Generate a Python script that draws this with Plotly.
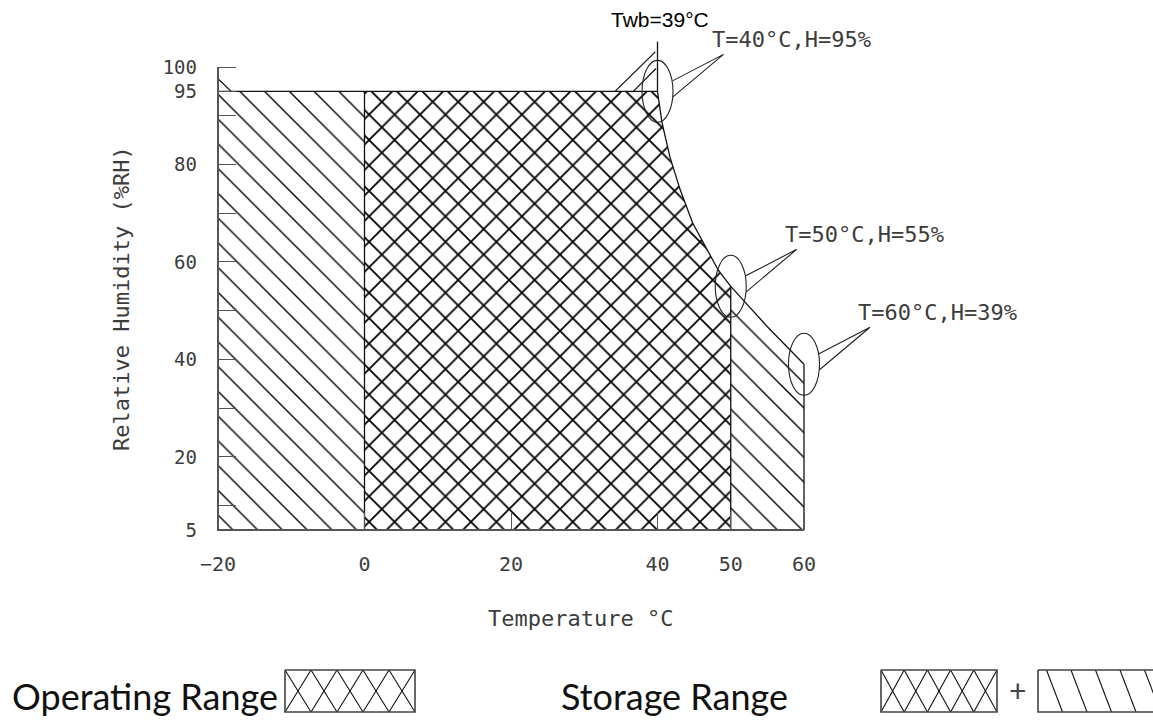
import plotly.graph_objects as go

W, H = 1153, 722

# ---------------- data ----------------
temp_ticks = [-20, 0, 20, 40, 50, 60]
rh_ticks = [5, 20, 40, 60, 80, 95, 100]
rh_minor_ticks = [10, 30, 50, 70, 90]

storage_t_min, storage_t_max = -20, 60
operating_t_min, operating_t_max = 0, 50
rh_min, rh_max = 5, 95
rh_axis_top = 100

# upper limit curve (constant wet bulb)
limit_t = [40, 40.6, 41.7, 43.1, 44.8, 46.8, 48.3, 50, 55, 60]
limit_rh = [95, 88.7, 81.5, 74.8, 68.0, 62.4, 58.3, 55, 46.7, 39]

# marked corner points
point_t = [40, 50, 60]
point_rh = [95, 55, 39]
point_labels = ["T=40°C,H=95%", "T=50°C,H=55%", "T=60°C,H=39%"]

# wet bulb marker
twb_label = "Twb=39°C"
twb_t = 40
twb_top = 105.2

# stray hatch segments above the 95 % line
extra_t0 = [34.2, 36.7, -20.0]
extra_rh0 = [95, 95, 97.6]
extra_t1 = [39.7, 39.8, -18.2]
extra_rh1 = [103.1, 99.7, 95]

# ---------------- scales (pixels per unit) ----------------
PX_X = 586 / 80.0
PX_Y = 463 / 95.0
X0_PX, Y0_PX = 218, 530
x_range = [-20 - X0_PX / PX_X, -20 + (W - X0_PX) / PX_X]
y_range = [5 - (H - Y0_PX) / PX_Y, 5 + Y0_PX / PX_Y]

CAD_FONT = "DejaVu Sans Mono"
CAD_COLOR = "#3c3c3c"

fig = go.Figure()

# storage range polygon (single hatch)
st_x = [storage_t_min, storage_t_min] + limit_t + [storage_t_max]
st_y = [rh_min, rh_max] + limit_rh + [rh_min]
fig.add_trace(go.Scatter(
    x=st_x, y=st_y, mode="lines", fill="toself", fillcolor="white",
    line=dict(width=0, color="rgba(0,0,0,0)"),
    fillpattern=dict(shape="\\", size=17.5, solidity=0.08, fgcolor="black",
                     bgcolor="white", fillmode="replace"),
    hoverinfo="skip", showlegend=False))

# operating range polygon (cross hatch)
op_t = [t for t in limit_t if t <= operating_t_max]
op_rh = [r for t, r in zip(limit_t, limit_rh) if t <= operating_t_max]
op_x = [operating_t_min, operating_t_min] + op_t + [operating_t_max]
op_y = [rh_min, rh_max] + op_rh + [rh_min]
fig.add_trace(go.Scatter(
    x=op_x, y=op_y, mode="lines", fill="toself", fillcolor="white",
    line=dict(width=0, color="rgba(0,0,0,0)"),
    fillpattern=dict(shape="x", size=18, solidity=0.19, fgcolor="black",
                     bgcolor="white", fillmode="replace"),
    hoverinfo="skip", showlegend=False))

# region outlines
ox, oy = [], []
def seg(xs, ys):
    ox.extend(list(xs) + [None]); oy.extend(list(ys) + [None])
seg([storage_t_min, limit_t[0]], [rh_max, rh_max])
seg([operating_t_min, operating_t_min], [rh_min, rh_max])
seg([operating_t_max, operating_t_max], [rh_min, op_rh[-1]])
seg([storage_t_max, storage_t_max], [rh_min, limit_rh[-1]])
seg(limit_t, limit_rh)
seg([twb_t, twb_t], [limit_rh[0], twb_top])
for a, b, c, d in zip(extra_t0, extra_rh0, extra_t1, extra_rh1):
    seg([a, c], [b, d])
fig.add_trace(go.Scatter(x=ox, y=oy, mode="lines",
                         line=dict(color="#111111", width=1.3),
                         hoverinfo="skip", showlegend=False))

# axis frame
fig.add_trace(go.Scatter(
    x=[storage_t_min, storage_t_min, storage_t_max],
    y=[rh_axis_top, rh_min, rh_min], mode="lines",
    line=dict(color="#555555", width=2), hoverinfo="skip", showlegend=False))

# callout bubbles
cx, cy = [], []
for t, r in zip(point_t, point_rh):
    fig.add_shape(type="circle", xref="x", yref="y",
                  x0=t - 15.5 / PX_X, x1=t + 15.5 / PX_X,
                  y0=r - 31 / PX_Y, y1=r + 31 / PX_Y,
                  line=dict(color="#222222", width=1.1))
    cx.extend([t + 15 / PX_X, t + 66 / PX_X, t + 15.5 / PX_X, None])
    cy.extend([r + 10.5 / PX_Y, r + 37 / PX_Y, r - 5.5 / PX_Y, None])
fig.add_trace(go.Scatter(x=cx, y=cy, mode="lines",
                         line=dict(color="#222222", width=1.1),
                         hoverinfo="skip", showlegend=False))

for t, r, lab in zip(point_t, point_rh, point_labels):
    fig.add_annotation(x=t, y=r, xref="x", yref="y", text=lab, showarrow=False,
                       xanchor="left", yanchor="middle", xshift=52, yshift=52,
                       font=dict(family=CAD_FONT, size=22, color=CAD_COLOR))

fig.add_annotation(x=twb_t, y=twb_top, xref="x", yref="y", text=twb_label,
                   showarrow=False, xanchor="center", yanchor="middle", yshift=22,
                   xshift=2, font=dict(family="Liberation Sans", size=21, color="black"))

# axis titles
fig.add_annotation(x=121 / W, y=1 - 298 / H, xref="paper", yref="paper",
                   xanchor="center", yanchor="middle",
                   text="Relative Humidity (%RH)", textangle=-90, showarrow=False,
                   font=dict(family=CAD_FONT, size=22, color=CAD_COLOR))
fig.add_annotation(x=580 / W, y=1 - 618 / H, xref="paper", yref="paper",
                   xanchor="center", yanchor="middle",
                   text="Temperature °C", showarrow=False,
                   font=dict(family=CAD_FONT, size=22, color=CAD_COLOR))

# ---------------- legend swatches (pixel overlay axes) ----------------
LEG_FONT = "Lato"
lx, ly = [], []
def lseg(x0, y0, x1, y1):
    lx.extend([x0, x1, None]); ly.extend([y0, y1, None])
def cross_box(x0, x1, y0, y1, n):
    w = (x1 - x0) / n
    for i in range(n):
        a = x0 + i * w
        lseg(a, y0, a + w, y1)
        lseg(a + w, y0, a, y1)
def diag_box(x0, x1, y0, y1, step, dx):
    xs = x0 - dx
    while xs < x1:
        a0, b0 = xs, y0
        a1, b1 = xs + dx, y1
        if a0 < x0:
            b0 = y0 + (x0 - a0) / dx * (y1 - y0); a0 = x0
        if a1 > x1:
            b1 = y0 + (x1 - xs) / dx * (y1 - y0); a1 = x1
        if a1 > a0:
            lseg(a0, b0, a1, b1)
        xs += step

LY0, LY1 = 670, 712
cross_box(285, 415, LY0, LY1, 5)
cross_box(881, 997, LY0, LY1, 5)
diag_box(1038, 1160, LY0, LY1, 24.5, 16)
fig.add_trace(go.Scatter(x=lx, y=ly, mode="lines", xaxis="x2", yaxis="y2",
                         line=dict(color="#111111", width=1.1),
                         hoverinfo="skip", showlegend=False))
bx, by = [], []
for x0, x1 in [(285, 415), (881, 997), (1038, 1160)]:
    bx.extend([x0, x1, x1, x0, x0, None]); by.extend([LY0, LY0, LY1, LY1, LY0, None])
fig.add_trace(go.Scatter(x=bx, y=by, mode="lines", xaxis="x2", yaxis="y2",
                         line=dict(color="#444444", width=1.6),
                         hoverinfo="skip", showlegend=False))

fig.add_annotation(x=10 / W, y=1 - 696 / H, xref="paper", yref="paper",
                   text="Operating Range", showarrow=False, xanchor="left",
                   yanchor="middle", font=dict(family=LEG_FONT, size=36, color="#111111"))
fig.add_annotation(x=790 / W, y=1 - 696 / H, xref="paper", yref="paper",
                   text="Storage Range", showarrow=False, xanchor="right",
                   yanchor="middle", font=dict(family=LEG_FONT, size=36, color="#111111"))
fig.add_annotation(x=1017 / W, y=1 - 690 / H, xref="paper", yref="paper",
                   text="+", showarrow=False, xanchor="center",
                   yanchor="middle", font=dict(family=LEG_FONT, size=30, color="#444444"))

fig.update_layout(
    width=W, height=H, margin=dict(l=0, r=0, t=0, b=0, pad=0),
    paper_bgcolor="white", plot_bgcolor="rgba(0,0,0,0)", showlegend=False,
    xaxis=dict(range=x_range, domain=[0, 1], anchor="free",
               position=(H - Y0_PX) / H, showgrid=False, zeroline=False,
               showline=False, tickmode="array", tickvals=temp_ticks,
               ticktext=["−20" if v < 0 else str(v) for v in temp_ticks],
               ticks="inside", ticklen=18, tickwidth=1.4, tickcolor="#555555",
               ticklabelstandoff=20,
               tickfont=dict(family=CAD_FONT, size=20, color=CAD_COLOR)),
    yaxis=dict(range=y_range, domain=[0, 1], anchor="free",
               position=X0_PX / W, showgrid=False, zeroline=False,
               showline=False, tickmode="array", tickvals=rh_ticks,
               ticks="inside", ticklen=17, tickwidth=1.4, tickcolor="#555555",
               ticklabelstandoff=21,
               minor=dict(tickmode="array", tickvals=rh_minor_ticks, ticks="inside",
                          ticklen=17, tickwidth=1.4, tickcolor="#555555"),
               tickfont=dict(family=CAD_FONT, size=19, color=CAD_COLOR)),
    xaxis2=dict(range=[0, W], overlaying="x", anchor="y2", visible=False),
    yaxis2=dict(range=[H, 0], overlaying="y", anchor="x2", visible=False),
)

fig.write_html("out.html", config={"displayModeBar": False},
               post_script="document.body.style.margin='0';")
